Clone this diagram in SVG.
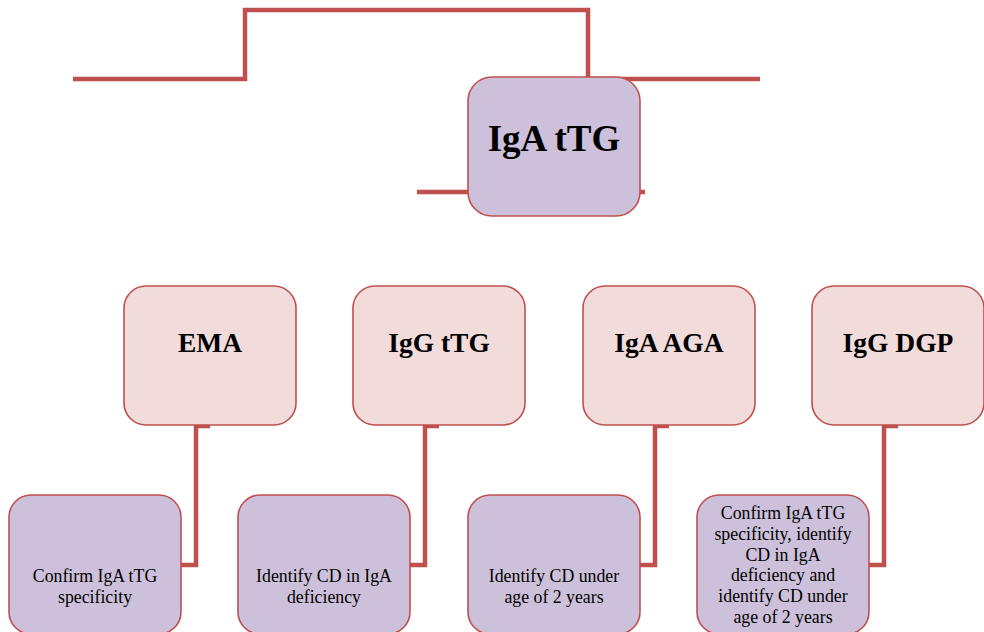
<svg xmlns="http://www.w3.org/2000/svg" width="984" height="632" viewBox="0 0 984 632">
<style>
.conn{fill:none;stroke:#C0504D;stroke-width:4.5}
.pink{fill:#F2DCDB;stroke:#C0504D;stroke-width:1.6}
.lav{fill:#CCC0DA;stroke:#C0504D;stroke-width:1.6}
.h{font-family:"Liberation Serif","Times New Roman",serif;font-weight:bold;font-size:27.5px;text-anchor:middle;fill:#000}
.t{font-family:"Liberation Serif","Times New Roman",serif;font-size:17.8px;text-anchor:middle;fill:#000}
</style>
<rect width="984" height="632" fill="#fff"/>
<g id="connectors">
<path class="conn" d="M73 79 H245 V10 H588 V79 H760"/>
<path class="conn" d="M417 192 H645"/>
<path class="conn" d="M210 426 H196 V565 H181"/>
<path class="conn" d="M439 426 H425 V565 H410"/>
<path class="conn" d="M669 426 H655 V565 H640"/>
<path class="conn" d="M898 426 H884 V565 H869"/>
</g>
<g id="igatTG">
<rect class="lav" x="468" y="77" width="172" height="139" rx="24"/>
<text class="h" x="554" y="151" style="font-size:37px">IgA tTG</text>
</g>
<g id="ema">
<rect class="pink" x="124" y="286" width="172" height="139" rx="22"/>
<text class="h" x="210" y="352">EMA</text>
</g>
<g id="iggttg">
<rect class="pink" x="353" y="286" width="172" height="139" rx="22"/>
<text class="h" x="439" y="352">IgG tTG</text>
</g>
<g id="igaaga">
<rect class="pink" x="583" y="286" width="172" height="139" rx="22"/>
<text class="h" x="669" y="352">IgA AGA</text>
</g>
<g id="iggdgp">
<rect class="pink" x="812" y="286" width="172" height="139" rx="22"/>
<text class="h" x="898" y="352">IgG DGP</text>
</g>
<g id="d1">
<rect class="lav" x="9" y="495" width="172" height="139" rx="22"/>
<text class="t" x="95" y="582">Confirm IgA tTG</text>
<text class="t" x="95" y="603">specificity</text>
</g>
<g id="d2">
<rect class="lav" x="238" y="495" width="172" height="139" rx="22"/>
<text class="t" x="324" y="582">Identify CD in IgA</text>
<text class="t" x="324" y="603">deficiency</text>
</g>
<g id="d3">
<rect class="lav" x="468" y="495" width="172" height="139" rx="22"/>
<text class="t" x="554" y="582">Identify CD under</text>
<text class="t" x="554" y="603">age of 2 years</text>
</g>
<g id="d4">
<rect class="lav" x="697" y="495" width="172" height="139" rx="22"/>
<text class="t" x="783" y="519">Confirm IgA tTG</text>
<text class="t" x="783" y="540">specificity, identify</text>
<text class="t" x="783" y="561">CD in IgA</text>
<text class="t" x="783" y="581">deficiency and</text>
<text class="t" x="783" y="602">identify CD under</text>
<text class="t" x="783" y="623">age of 2 years</text>
</g>
</svg>
